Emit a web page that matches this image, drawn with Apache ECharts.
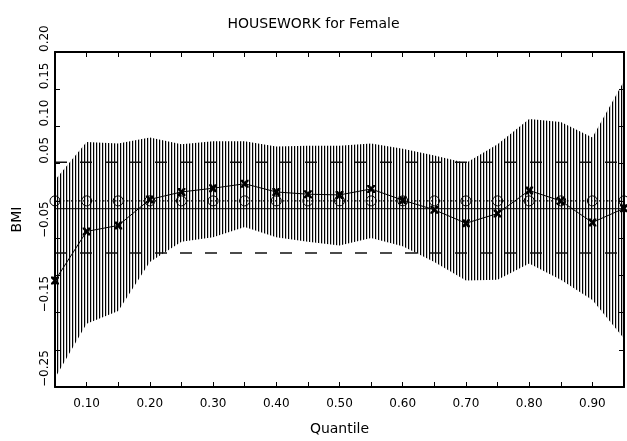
<!DOCTYPE html>
<html>
<head>
<meta charset="utf-8">
<script src="https://cdn.jsdelivr.net/npm/echarts@6/dist/echarts.min.js"></script>
<style>
html,body{margin:0;padding:0;background:#fff;}
#chart{width:627px;height:441px;}
</style>
</head>
<body>
<div id="chart"></div>
<script>
// ---- data ----
const quantiles = [0.05,0.10,0.15,0.20,0.25,0.30,0.35,0.40,0.45,0.50,0.55,0.60,0.65,0.70,0.75,0.80,0.85,0.90,0.95];
const estimates = [-0.107,-0.041,-0.033,0.002,0.012,0.017,0.023,0.012,0.009,0.008,0.016,0.001,-0.012,-0.030,-0.017,0.014,0.000,-0.029,-0.010];
const upperBound = [0.028,0.079,0.077,0.085,0.076,0.080,0.080,0.073,0.074,0.074,0.077,0.070,0.061,0.051,0.076,0.110,0.106,0.085,0.161];
const lowerBound = [-0.238,-0.165,-0.148,-0.082,-0.055,-0.049,-0.035,-0.049,-0.055,-0.060,-0.050,-0.061,-0.082,-0.107,-0.106,-0.084,-0.106,-0.133,-0.185];
const circleValues = [0,0,0,0,0,0,0,0,0,0,0,0,0,0,0,0,0,0,0];
const olsEstimate = -0.0105;
const olsUpper = 0.052;
const olsLower = -0.070;
const xTickLabels = ['0.10','0.20','0.30','0.40','0.50','0.60','0.70','0.80','0.90'];
const yTickLabels = ['0.20','0.15','0.10','0.05','\u22120.05','\u22120.15','\u22120.25'];
const titleText = 'HOUSEWORK for Female';
const xName = 'Quantile';
const yName = 'BMI';

// ---- styles ----
const FONT = 'DejaVu Sans';
const xMin = 0.05, xMax = 0.95;

const pat = document.createElement('canvas');
pat.width = 3; pat.height = 4;
const pctx = pat.getContext('2d');
pctx.fillStyle = '#ffffff'; pctx.fillRect(0,0,3,4);
pctx.fillStyle = '#000000'; pctx.fillRect(0,0,1,4);
pctx.fillStyle = '#c8c8c8'; pctx.fillRect(1,0,1,4);

function fmtY(v){
  const s = (v < -1e-9 ? '\u2212' : '') + Math.abs(v).toFixed(2);
  return yTickLabels.indexOf(s) >= 0 ? s : '';
}
function fmtX(v){
  const s = v.toFixed(2);
  return xTickLabels.indexOf(s) >= 0 ? s : '';
}

const bandData = quantiles.map((q,i)=>[q, lowerBound[i], upperBound[i]]);
const refLines = [
  {value: olsUpper, dash:[12,13], color:'#111', width:1.5},
  {value: olsLower, dash:[12,13], color:'#111', width:1.5},
  {value: olsEstimate, dash:null, color:'#000', width:1}
];
const xMarker = 'path://M0,0L3,0L5,2.5L7,0L10,0L10,2L7,5L10,8L10,10L7,10L5,7.5L3,10L0,10L0,8L3,5L0,2Z';

const chart = echarts.init(document.getElementById('chart'), null, {renderer:'canvas'});
const axisLineStyle = {color:'#000', width:2};
const tickStyle = {show:true, inside:true, length:5, lineStyle:{color:'#000', width:1}};
chart.setOption({
  animation:false,
  backgroundColor:'#fff',
  title:{text:titleText, left:'center', top:12,
    textStyle:{fontFamily:FONT, fontSize:14, fontWeight:'normal', color:'#000'}},
  grid:{left:55, right:3, top:52, bottom:49, containLabel:false},
  xAxis:[{
    type:'value', min:xMin, max:xMax, interval:0.05, z:10,
    name:xName, nameLocation:'middle', nameGap:35,
    nameTextStyle:{fontFamily:FONT, fontSize:14, color:'#000'},
    axisLine:{show:true, onZero:false, lineStyle:axisLineStyle},
    axisTick:tickStyle,
    axisLabel:{formatter:fmtX, fontFamily:FONT, fontSize:12, color:'#000', margin:11, showMinLabel:true, showMaxLabel:true},
    splitLine:{show:false}
  },{
    type:'value', position:'top', min:xMin, max:xMax, interval:0.05, z:10,
    axisLine:{show:true, onZero:false, lineStyle:axisLineStyle},
    axisTick:tickStyle,
    axisLabel:{show:false}, splitLine:{show:false}
  }],
  yAxis:[{
    type:'value', min:-0.25, max:0.20, interval:0.05, z:10,
    name:yName, nameLocation:'middle', nameGap:31, nameRotate:90,
    nameTextStyle:{fontFamily:FONT, fontSize:14, color:'#000'},
    axisLine:{show:true, onZero:false, lineStyle:axisLineStyle},
    axisTick:tickStyle,
    axisLabel:{formatter:fmtY, rotate:90, align:'left', verticalAlign:'bottom', margin:4,
      fontFamily:FONT, fontSize:12, color:'#000', showMinLabel:true, showMaxLabel:true},
    splitLine:{show:false}
  },{
    type:'value', position:'right', min:-0.25, max:0.20, interval:0.05, z:10,
    axisLine:{show:true, onZero:false, lineStyle:axisLineStyle},
    axisTick:tickStyle,
    axisLabel:{show:false}, splitLine:{show:false}
  }],
  series:[
    {
      type:'custom', name:'band', xAxisIndex:0, yAxisIndex:0, clip:true, z:1,
      data:bandData, encode:{x:0, y:[1,2]},
      renderItem:function(params, api){
        if (params.dataIndex !== 0) return null;
        const top = bandData.map(d=>api.coord([d[0], d[2]]));
        const bot = bandData.map(d=>api.coord([d[0], d[1]])).reverse();
        const children = [{type:'polygon', shape:{points:top.concat(bot)},
          style:{fill:{image:pat, repeat:'repeat'}, stroke:null}}];
        refLines.forEach(function(r){
          const a = api.coord([xMin, r.value]);
          const b = api.coord([xMax, r.value]);
          children.push({type:'line', shape:{x1:a[0], y1:a[1], x2:b[0], y2:b[1]},
            style:{stroke:r.color, lineWidth:r.width, lineDash:r.dash, fill:null}});
        });
        return {type:'group', children:children};
      }
    },
    {type:'line', name:'circles', data:quantiles.map((q,i)=>[q,circleValues[i]]), z:7,
      symbol:'circle', symbolSize:10, showAllSymbol:true,
      itemStyle:{color:'transparent', borderColor:'#000', borderWidth:1},
      lineStyle:{color:'#000', width:1.2, type:[1.5,2.5]}},
    {type:'line', name:'estimates', data:quantiles.map((q,i)=>[q,estimates[i]]), z:8,
      symbol:xMarker, symbolSize:8, showAllSymbol:true,
      itemStyle:{color:'#000'},
      lineStyle:{color:'#000', width:1}}
  ]
});
</script>
</body>
</html>
